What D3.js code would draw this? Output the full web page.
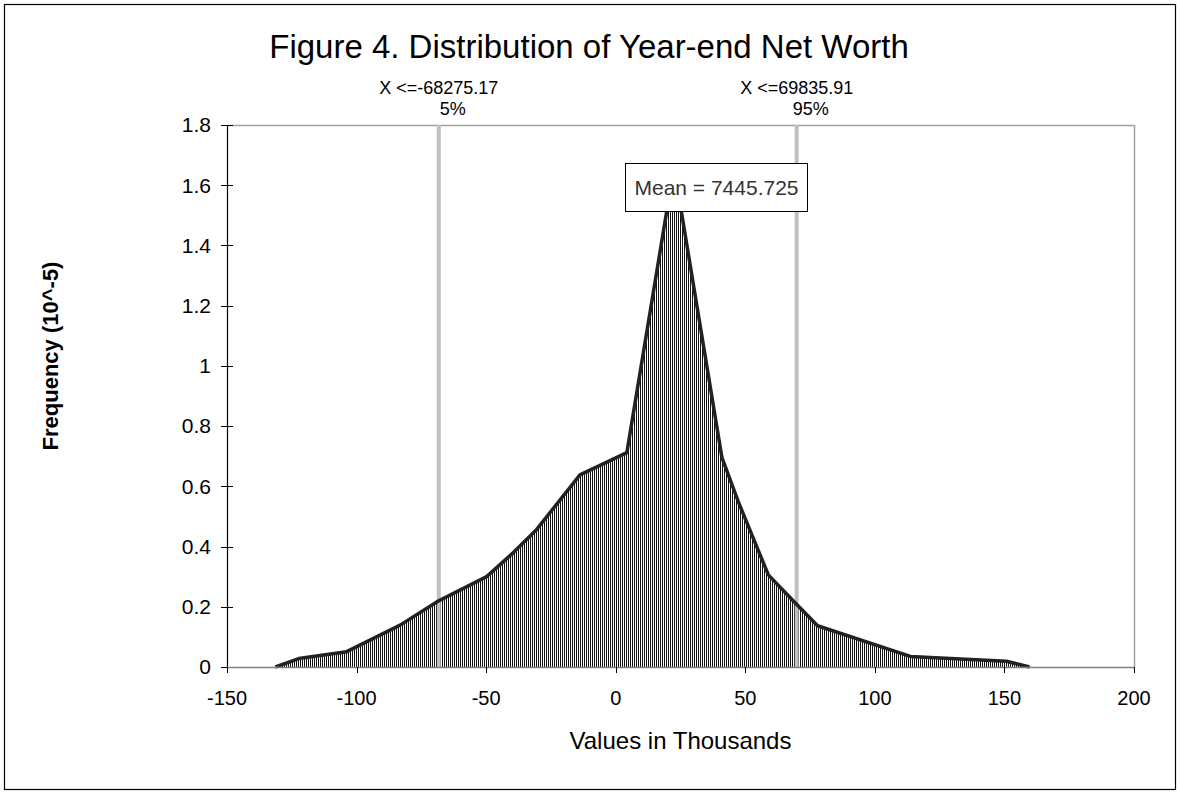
<!DOCTYPE html>
<html>
<head>
<meta charset="utf-8">
<script src="https://cdn.jsdelivr.net/npm/d3@7"></script>
<style>
  html, body { margin: 0; padding: 0; background: #fff; }
  svg { display: block; font-family: "Liberation Sans", Arial, sans-serif; }
</style>
</head>
<body>
<svg id="chart" width="1180" height="794"></svg>
<script>
// ---- data (values in thousands; frequency in 10^-5) ----
const xValues = [-131.3, -122.3, -103.8, -83.2, -68.9, -49.8, -39.5, -30.5, -13.8, 4.3, 22.5, 41.0, 47.3, 58.9, 69.4, 77.9, 113.7, 150.8, 159.7];
const freqValues = [0, 0.028, 0.051, 0.139, 0.217, 0.30, 0.38, 0.457, 0.638, 0.712, 1.66, 0.695, 0.549, 0.306, 0.212, 0.137, 0.035, 0.019, 0];
const xTicks = [-150, -100, -50, 0, 50, 100, 150, 200];
const yTicks = [0, 0.2, 0.4, 0.6, 0.8, 1, 1.2, 1.4, 1.6, 1.8];
const percentileValues = [-68.27517, 69.83591];
const percentileNames = ["5%", "95%"];
const percentileLabels = ["X <=-68275.17", "X <=69835.91"];
const meanValue = 7.445725;
const meanLabel = "Mean = 7445.725";
const titleText = "Figure 4. Distribution of Year-end Net Worth";
const xTitle = "Values in Thousands";
const yTitle = "Frequency (10^-5)";

const svg = d3.select("#chart");
const W = 1180, H = 794;
const m = { left: 227, right: 1134, top: 125, bottom: 667 };

const x = d3.scaleLinear().domain([-150, 200]).range([m.left, m.right]);
const y = d3.scaleLinear().domain([0, 1.8]).range([m.bottom, m.top]);

// outer frame
svg.append("rect").attr("x", 4.5).attr("y", 4.5).attr("width", W - 9).attr("height", H - 9)
  .attr("fill", "#fff").attr("stroke", "#000").attr("stroke-width", 1.2);

// hatching pattern
const defs = svg.append("defs");
const pat = defs.append("pattern").attr("id", "vhatch").attr("patternUnits", "userSpaceOnUse")
  .attr("width", 2).attr("height", 10);
pat.append("rect").attr("x", 0).attr("y", 0).attr("width", 2).attr("height", 10).attr("fill", "#fff");
pat.append("rect").attr("x", 0).attr("y", 0).attr("width", 1).attr("height", 10).attr("fill", "#111")
  .attr("shape-rendering", "crispEdges");

// plot border (gray top/right)
svg.append("line").attr("x1", m.left).attr("x2", m.right).attr("y1", m.top + 0.5).attr("y2", m.top + 0.5)
  .attr("stroke", "#a0a0a0").attr("stroke-width", 1.5);
svg.append("line").attr("x1", m.right + 0.5).attr("x2", m.right + 0.5).attr("y1", m.top).attr("y2", m.bottom)
  .attr("stroke", "#a0a0a0").attr("stroke-width", 1.5);

// area
const pts = xValues.map((v, i) => [v, freqValues[i]]);
const area = d3.area().x(d => x(d[0])).y0(y(0)).y1(d => y(d[1]));
const line = d3.line().x(d => x(d[0])).y(d => y(d[1]));
svg.append("path").datum(pts).attr("d", area).attr("fill", "url(#vhatch)");

// percentile lines
percentileValues.forEach((v, i) => {
  svg.append("line").attr("x1", x(v)).attr("x2", x(v)).attr("y1", m.top).attr("y2", m.bottom)
    .attr("stroke", "#c0c0c0").attr("stroke-width", 4);
});

svg.append("path").datum(pts).attr("d", line).attr("fill", "none")
  .attr("stroke", "#222").attr("stroke-width", 3.5).attr("stroke-linejoin", "round");

// axes
const yAxis = svg.append("g");
yAxis.append("line").attr("x1", m.left + 0.5).attr("x2", m.left + 0.5).attr("y1", m.top).attr("y2", m.bottom)
  .attr("stroke", "#000").attr("stroke-width", 1.2);
yTicks.forEach(t => {
  yAxis.append("line").attr("x1", m.left - 6).attr("x2", m.left + 6)
    .attr("y1", Math.round(y(t)) + 0.5).attr("y2", Math.round(y(t)) + 0.5).attr("stroke", "#000").attr("stroke-width", 1);
  yAxis.append("text").attr("x", m.left - 16).attr("y", y(t)).attr("dy", "0.35em")
    .attr("text-anchor", "end").attr("font-size", 21).attr("fill", "#000").text(d3.format("")(+t.toFixed(1)));
});

const xAxis = svg.append("g");
xAxis.append("line").attr("x1", m.left).attr("x2", m.right).attr("y1", m.bottom + 0.5).attr("y2", m.bottom + 0.5)
  .attr("stroke", "#808080").attr("stroke-width", 1.5);
xTicks.forEach(t => {
  xAxis.append("line").attr("x1", Math.round(x(t)) + 0.5).attr("x2", Math.round(x(t)) + 0.5)
    .attr("y1", m.bottom).attr("y2", m.bottom + 6).attr("stroke", "#000").attr("stroke-width", 1);
  xAxis.append("text").attr("x", x(t)).attr("y", m.bottom + 38)
    .attr("text-anchor", "middle").attr("font-size", 20).attr("fill", "#000").text(t);
});

// axis titles
svg.append("text").attr("x", (m.left + m.right) / 2).attr("y", 749).attr("text-anchor", "middle")
  .attr("font-size", 24).attr("fill", "#000").text(xTitle);
svg.append("text").attr("transform", "translate(58,356) rotate(-90)").attr("text-anchor", "middle")
  .attr("font-size", 22).attr("font-weight", "bold").attr("fill", "#000").text(yTitle);

// title
svg.append("text").attr("x", 589).attr("y", 58).attr("text-anchor", "middle")
  .attr("font-size", 33).attr("fill", "#000").text(titleText);

// percentile labels
percentileValues.forEach((v, i) => {
  svg.append("text").attr("x", x(v)).attr("y", 94).attr("text-anchor", "middle")
    .attr("font-size", 18).attr("fill", "#000").text(percentileLabels[i]);
  svg.append("text").attr("x", x(v) + 14).attr("y", 115).attr("text-anchor", "middle")
    .attr("font-size", 18).attr("fill", "#000").text(percentileNames[i]);
});

// mean box
const mb = svg.append("g").attr("transform", `translate(${Math.round(x(meanValue)) - 9.5},163.5)`);
mb.append("rect").attr("width", 182).attr("height", 48).attr("fill", "#fff").attr("stroke", "#000").attr("stroke-width", 1);
mb.append("text").attr("x", 91).attr("y", 24).attr("dy", "0.35em").attr("text-anchor", "middle")
  .attr("font-size", 21).attr("fill", "#333").text(meanLabel);
</script>
</body>
</html>
